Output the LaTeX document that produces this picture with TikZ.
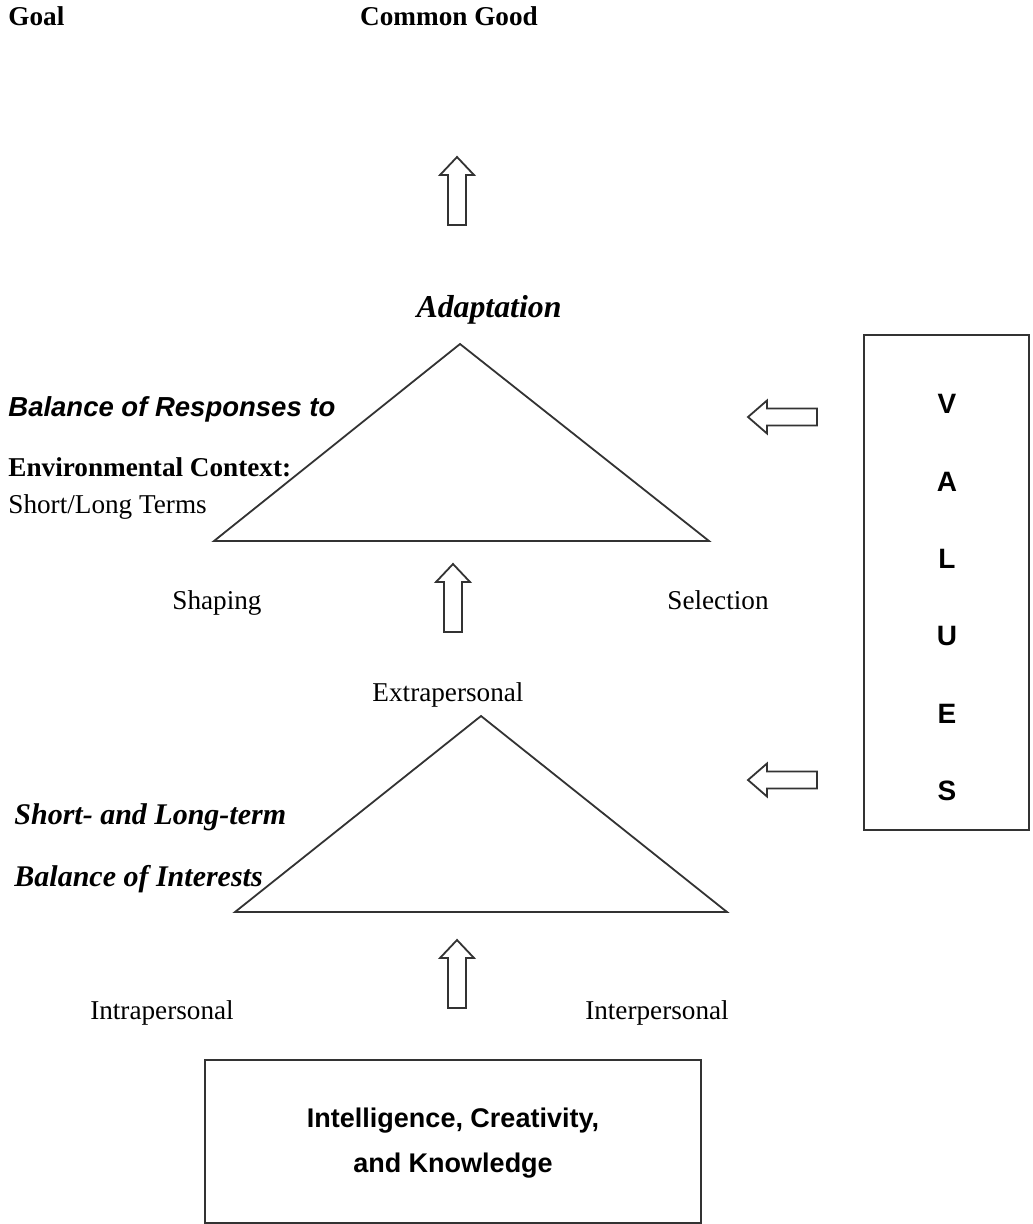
\documentclass[tikz,border=0pt]{standalone}
\usepackage{fontspec}
\setmainfont{Liberation Serif}
\setsansfont{Liberation Sans}
\usetikzlibrary{positioning}

\tikzset{
  outline/.style={draw=black!80, line width=0.9pt},
  plain/.style={inner sep=0pt, font=\fontsize{13.6}{16}\selectfont},
  plainbold/.style={plain, font=\fontsize{13.6}{16}\selectfont\bfseries},
  bolditalic/.style={plain, font=\fontsize{15}{16}\selectfont\bfseries\itshape},
  sansbolditalic/.style={plain, font=\fontsize{13.75}{16}\selectfont\sffamily\bfseries\itshape},
  valletter/.style={plain, font=\fontsize{14}{16}\selectfont\sffamily\bfseries},
  pics/uparrow/.style={code={
    \draw[outline, fill=white] (0,0) -- (17,18) -- (9,18) -- (9,68)
      -- (-9,68) -- (-9,18) -- (-17,18) -- cycle;
  }},
  pics/leftarrow/.style={code={
    \draw[outline, fill=white] (0,0) -- (19,-16.5) -- (19,-8.5) -- (69,-8.5)
      -- (69,8.5) -- (19,8.5) -- (19,16.5) -- cycle;
  }}
}

\begin{document}
\begin{tikzpicture}[x=0.5pt, y=-0.5pt]
\useasboundingbox (0,0) rectangle (1032,1224);

% goal
\node[plainbold, anchor=base west] (goal) at (8,26) {Goal};
\node[plainbold, anchor=base] (good) at (449,26) {Common Good};
\pic (upgood) at (457,157) {uparrow};

% adaptation
\node[bolditalic, font=\fontsize{15.9}{18}\selectfont\bfseries\itshape, anchor=base] (adapt) at (489,318) {Adaptation};
\coordinate (adtop) at (460,344);
\coordinate (adleft) at (214,541);
\coordinate (adright) at (709,541);
\draw[outline] (adtop) -- (adright) -- (adleft) -- cycle;
\node[sansbolditalic, anchor=base west] (responses) at (8,416) {Balance of Responses to};
\node[plainbold, anchor=base west] (context) at (8,476) {Environmental Context:};
\node[plain, anchor=base west] (terms) at (8,513) {Short/Long Terms};
\node[plain, anchor=base] (shaping) at (217,609) {Shaping};
\node[plain, anchor=base] (selection) at (718,609) {Selection};
\pic (upadapt) at (453,564) {uparrow};

% interests
\node[plain, anchor=base] (extra) at (448,701) {Extrapersonal};
\coordinate (intop) at (481,716);
\coordinate (inleft) at (235,912);
\coordinate (inright) at (727,912);
\draw[outline] (intop) -- (inright) -- (inleft) -- cycle;
\node[bolditalic, anchor=base west] (longterm) at (14,824) {Short- and Long-term};
\node[bolditalic, anchor=base west] (interests) at (14,886) {Balance of Interests};
\node[plain, anchor=base] (intra) at (162,1019) {Intrapersonal};
\node[plain, anchor=base] (inter) at (657,1019) {Interpersonal};
\pic (upinterests) at (457,940) {uparrow};

% values
\node[outline, minimum width=82.5pt, minimum height=247.5pt] (values) at (946.5,582.5) {};
\foreach \l [count=\i] in {V,A,L,U,E,S}
  \node[valletter] (val\i) at (947,{404+77.4*(\i-1)}) {\l};
\pic (valadapt) at (748,417) {leftarrow};
\pic (valinterests) at (748,780) {leftarrow};

% base
\node[outline, minimum width=248pt, minimum height=81.5pt] (base) at (453,1141.5) {};
\node[plain, font=\fontsize{13.5}{16}\selectfont\sffamily\bfseries, anchor=base] (skills) at (453,1127) {Intelligence, Creativity,};
\node[plain, font=\fontsize{13.5}{16}\selectfont\sffamily\bfseries, anchor=base] (knowledge) at (453,1172) {and Knowledge};
\end{tikzpicture}
\end{document}
